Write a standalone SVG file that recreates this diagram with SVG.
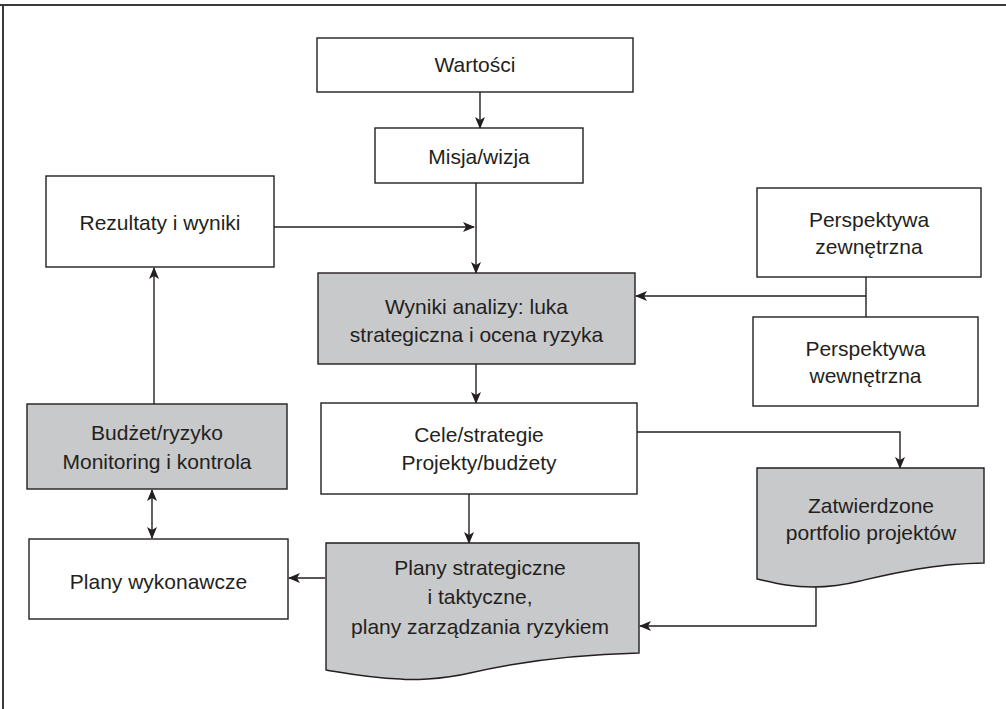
<svg xmlns="http://www.w3.org/2000/svg" width="1006" height="709" viewBox="0 0 1006 709">
  <style>
    .box { fill: #ffffff; stroke: #231f20; stroke-width: 1.4; }
    .shade { fill: #c8c9cb; stroke: #231f20; stroke-width: 1.4; }
    .lbl { font-family: "Liberation Sans", Arial, sans-serif; font-size: 21px; fill: #231f20; text-anchor: middle; }
    .wire { fill: none; stroke: #231f20; stroke-width: 1.4; }
    .frame { stroke: #3a3a3a; stroke-width: 2; }
  </style>
  <defs>
    <marker id="arrow" viewBox="0 0 12 10" refX="11" refY="5" markerWidth="12" markerHeight="10" markerUnits="userSpaceOnUse" orient="auto-start-reverse">
      <path d="M0,0 L12,5 L0,10 L3,5 z" fill="#231f20"/>
    </marker>
  </defs>

  <!-- page frame (top and left rules) -->
  <line class="frame" x1="0" y1="5" x2="1006" y2="5"/>
  <line class="frame" x1="3" y1="5" x2="3" y2="709"/>

  <g id="connectors">
    <!-- Wartości -> Misja/wizja -->
    <line class="wire" x1="480" y1="92" x2="480" y2="128" marker-end="url(#arrow)"/>
    <!-- Misja/wizja -> Wyniki analizy -->
    <line class="wire" x1="476" y1="183" x2="476" y2="273" marker-end="url(#arrow)"/>
    <!-- Rezultaty -> main line -->
    <line class="wire" x1="274" y1="227" x2="474" y2="227" marker-end="url(#arrow)"/>
    <!-- Perspektywy -> Wyniki analizy -->
    <line class="wire" x1="866" y1="277" x2="866" y2="317"/>
    <line class="wire" x1="866" y1="296" x2="636" y2="296" marker-end="url(#arrow)"/>
    <!-- Wyniki analizy -> Cele -->
    <line class="wire" x1="476" y1="364" x2="476" y2="403" marker-end="url(#arrow)"/>
    <!-- Cele -> Zatwierdzone portfolio -->
    <polyline class="wire" points="637,432 900,432 900,468" marker-end="url(#arrow)"/>
    <!-- Cele -> Plany strategiczne -->
    <line class="wire" x1="469" y1="494" x2="469" y2="543" marker-end="url(#arrow)"/>
    <!-- Zatwierdzone portfolio -> Plany strategiczne -->
    <polyline class="wire" points="816,587 816,626 640,626" marker-end="url(#arrow)"/>
    <!-- Plany strategiczne -> Plany wykonawcze -->
    <line class="wire" x1="325" y1="578" x2="289" y2="578" marker-end="url(#arrow)"/>
    <!-- Budżet <-> Plany wykonawcze -->
    <line class="wire" x1="152" y1="490" x2="152" y2="538" marker-start="url(#arrow)" marker-end="url(#arrow)"/>
    <!-- Budżet -> Rezultaty -->
    <line class="wire" x1="154" y1="404" x2="154" y2="268" marker-end="url(#arrow)"/>
  </g>

  <g id="wartosci">
    <rect class="box" x="317" y="38" width="316" height="54"/>
    <text class="lbl" x="475" y="72">Wartości</text>
  </g>

  <g id="misja">
    <rect class="box" x="375" y="128" width="208" height="55"/>
    <text class="lbl" x="479" y="164">Misja/wizja</text>
  </g>

  <g id="rezultaty">
    <rect class="box" x="46" y="176" width="228" height="91"/>
    <text class="lbl" x="160" y="230">Rezultaty i wyniki</text>
  </g>

  <g id="wyniki-analizy">
    <rect class="shade" x="318" y="273" width="317" height="91"/>
    <text class="lbl" x="476.5" y="314">Wyniki analizy: luka</text>
    <text class="lbl" x="476.5" y="342">strategiczna i ocena ryzyka</text>
  </g>

  <g id="perspektywa-zewnetrzna">
    <rect class="box" x="757" y="188" width="224" height="89"/>
    <text class="lbl" x="869" y="227">Perspektywa</text>
    <text class="lbl" x="869" y="254">zewnętrzna</text>
  </g>

  <g id="perspektywa-wewnetrzna">
    <rect class="box" x="753" y="317" width="225" height="89"/>
    <text class="lbl" x="865.5" y="356">Perspektywa</text>
    <text class="lbl" x="865.5" y="383">wewnętrzna</text>
  </g>

  <g id="cele">
    <rect class="box" x="321" y="403" width="316" height="91"/>
    <text class="lbl" x="479" y="442">Cele/strategie</text>
    <text class="lbl" x="479" y="470">Projekty/budżety</text>
  </g>

  <g id="budzet">
    <rect class="shade" x="27" y="404" width="260" height="85"/>
    <text class="lbl" x="157" y="440">Budżet/ryzyko</text>
    <text class="lbl" x="157" y="469">Monitoring i kontrola</text>
  </g>

  <g id="plany-wykonawcze">
    <rect class="box" x="29" y="539" width="259" height="80"/>
    <text class="lbl" x="158.5" y="589">Plany wykonawcze</text>
  </g>

  <g id="plany-strategiczne">
    <path class="shade" d="M326,543 L639,543 L639,653 C560,655 500,666 470,673 C440,680 410,680 400,679 C370,678 350,674 326,670 Z"/>
    <text class="lbl" x="480" y="575">Plany strategiczne</text>
    <text class="lbl" x="480" y="604">i taktyczne,</text>
    <text class="lbl" x="480" y="634">plany zarządzania ryzykiem</text>
  </g>

  <g id="portfolio">
    <path class="shade" d="M757,468 L984,468 L984,563 C930,564 890,574 860,581 C840,586 825,587 813,587 C790,587 775,583 757,579 Z"/>
    <text class="lbl" x="871" y="513">Zatwierdzone</text>
    <text class="lbl" x="871" y="540">portfolio projektów</text>
  </g>
</svg>
